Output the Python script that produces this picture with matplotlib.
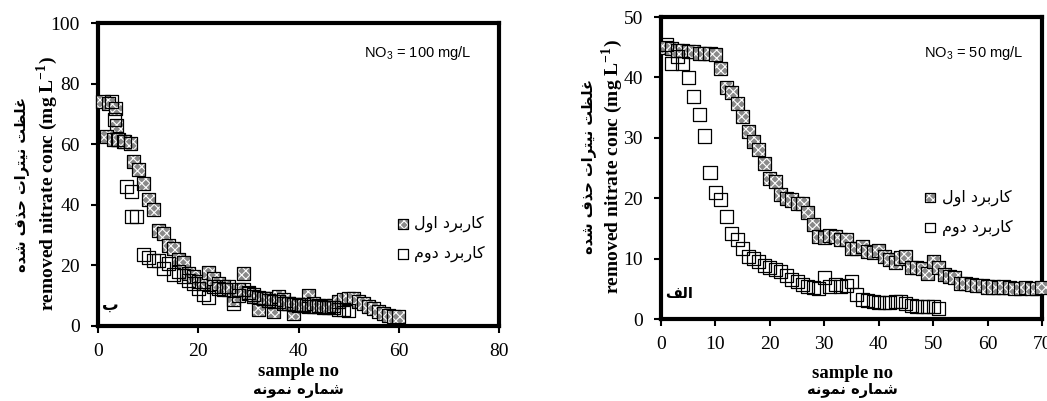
import matplotlib
matplotlib.use("Agg")
import matplotlib.pyplot as plt

# ---------------- data ----------------
# panel "ب" : NO3 = 100 mg/L
b_first_x = [1, 2, 3.4, 3.7, 1.7, 3.1, 4.1, 5.05, 6.4,
             7, 8, 9, 10, 11, 12, 13, 14, 15, 16, 17, 18, 19, 20,
             21, 22, 23, 24, 25, 26, 27, 28, 29, 30, 31, 32, 33, 34, 35, 36, 37, 38, 39, 40,
             41, 42, 43, 44, 45, 46, 47, 48, 49, 50, 51, 52, 53, 54, 55, 56, 57, 58, 59, 60]
b_first_y = [74.0, 73.5, 71.8, 66.3, 62.5, 61.4, 61.4, 60.8, 60.3,
             54.2, 51.5, 47.1, 41.6, 38.5, 31.4, 30.6, 26.7, 25.6, 22.0, 21.0, 17.4, 16.3, 14.6,
             14.0, 17.6, 15.7, 14.0, 13.0, 12.0, 8.6, 12.0, 17.4, 10.8, 9.7, 5.3, 9.1, 9.0, 4.7, 9.7, 8.6, 7.5, 4.2, 6.9,
             6.9, 10.2, 7.5, 6.9, 6.9, 6.4, 6.9, 8.0, 8.6, 9.1, 9.1, 8.0, 7.5, 6.4, 5.8, 4.7, 4.2, 3.6, 3.1, 3.1]

b_second_x = [2.6, 3.3, 3.8, 5.2, 5.7, 6.7, 6.7, 7.7,
              9, 10, 11, 12, 13, 14, 15, 16, 17, 18, 19, 20,
              21, 22, 23, 24, 25, 26, 27, 28, 29, 30, 31, 32, 33, 34, 35, 36, 37, 38, 39, 40,
              41, 42, 43, 44, 45, 46, 47, 48, 49, 50]
b_second_y = [74.0, 68.0, 61.7, 61.0, 46.0, 44.5, 36.0, 36.0,
              23.5, 22.5, 21.5, 21.5, 19.0, 20.5, 17.0, 18.0, 16.5, 15.0, 14.0, 12.5,
              10.5, 9.5, 13.0, 12.5, 12.0, 13.0, 7.5, 10.0, 12.0, 11.0, 10.5, 9.5, 9.0, 8.5, 8.0, 8.0, 7.5, 7.5, 7.0, 7.0,
              7.0, 6.5, 6.5, 6.5, 6.0, 6.0, 6.0, 5.5, 5.5, 5.0]

# panel "الف" : NO3 = 50 mg/L
a_first_x = list(range(1, 71))
a_first_y = [45.0, 44.8, 44.5, 44.5, 44.3, 44.3, 44.0, 44.0, 44.0, 43.8,
             41.5, 38.3, 37.5, 35.6, 33.5, 31.1, 29.4, 28.0, 25.7, 23.3,
             22.8, 20.6, 20.0, 19.7, 19.2, 19.2, 17.6, 15.7, 13.7, 13.5,
             13.8, 13.6, 13.2, 13.1, 11.7, 11.7, 12.0, 11.2, 11.0, 11.4,
             10.3, 9.8, 9.3, 10.1, 10.3, 8.6, 8.6, 8.3, 7.6, 9.5,
             8.6, 7.3, 7.0, 6.9, 5.9, 5.8, 5.7, 5.6, 5.5, 5.3,
             5.3, 5.2, 5.3, 5.2, 5.0, 5.1, 5.2, 5.1, 5.1, 5.2]

a_second_x = list(range(1, 52))
a_second_y = [45.5, 42.3, 43.5, 42.3, 40.0, 36.9, 33.9, 30.3, 24.2, 20.9,
              19.8, 17.0, 14.2, 13.2, 11.7, 10.3, 10.0, 9.5, 8.9, 8.5,
              8.2, 7.9, 7.2, 6.6, 6.2, 5.7, 5.4, 5.2, 5.0, 6.8,
              5.4, 5.7, 5.4, 5.5, 6.2, 4.0, 3.3, 3.0, 2.9, 2.8,
              2.8, 2.8, 2.9, 2.9, 2.6, 2.2, 2.0, 2.0, 2.0, 2.0,
              1.8]

label_first = "کاربرد اول"
label_second = "کاربرد دوم"
ylabel_fa = "غلظت نیترات حذف شده"
xlabel_fa = "شماره نمونه"
ylabel_en = r"removed nitrate conc (mg L$^{\mathbf{-1}}$)"
xlabel_en = "sample no"

# ---------------- Persian text shaping ----------------
# (isolated, final, initial, medial); right-joining letters have two forms only
FORMS = {
    'ا': ('\uFE8D', '\uFE8E'),
    'ب': ('\uFE8F', '\uFE90', '\uFE91', '\uFE92'),
    'ت': ('\uFE95', '\uFE96', '\uFE97', '\uFE98'),
    'ح': ('\uFEA1', '\uFEA2', '\uFEA3', '\uFEA4'),
    'د': ('\uFEA9', '\uFEAA'),
    'ذ': ('\uFEAB', '\uFEAC'),
    'ر': ('\uFEAD', '\uFEAE'),
    'ش': ('\uFEB5', '\uFEB6', '\uFEB7', '\uFEB8'),
    'ظ': ('\uFEC5', '\uFEC6', '\uFEC7', '\uFEC8'),
    'غ': ('\uFECD', '\uFECE', '\uFECF', '\uFED0'),
    'ف': ('\uFED1', '\uFED2', '\uFED3', '\uFED4'),
    'ل': ('\uFEDD', '\uFEDE', '\uFEDF', '\uFEE0'),
    'م': ('\uFEE1', '\uFEE2', '\uFEE3', '\uFEE4'),
    'ن': ('\uFEE5', '\uFEE6', '\uFEE7', '\uFEE8'),
    'ه': ('\uFEE9', '\uFEEA', '\uFEEB', '\uFEEC'),
    'و': ('\uFEED', '\uFEEE'),
    'ک': ('\uFB8E', '\uFB8F', '\uFB90', '\uFB91'),
    'ی': ('\uFBFC', '\uFBFD', '\uFBFE', '\uFBFF'),
}


def fa(text):
    out = []
    for i, ch in enumerate(text):
        if ch not in FORMS:
            out.append(ch)
            continue
        prev = text[i - 1] if i > 0 else ''
        nxt = text[i + 1] if i + 1 < len(text) else ''
        f = FORMS[ch]
        join_prev = prev in FORMS and len(FORMS[prev]) == 4
        join_next = len(f) == 4 and nxt in FORMS
        if join_prev and join_next:
            out.append(f[3])
        elif join_prev:
            out.append(f[1])
        elif join_next:
            out.append(f[2])
        else:
            out.append(f[0])
    return ''.join(reversed(out))


# ---------------- style ----------------
plt.rcParams['font.family'] = ['Liberation Serif', 'DejaVu Sans']
plt.rcParams['mathtext.fontset'] = 'custom'
plt.rcParams['mathtext.rm'] = 'Liberation Serif'
plt.rcParams['mathtext.bf'] = 'Liberation Serif:bold'
plt.rcParams['mathtext.sf'] = 'Liberation Sans'
plt.rcParams['hatch.linewidth'] = 0.8

W, H = 1047, 401
fig = plt.figure(figsize=(W / 100, H / 100), dpi=100)


def px_axes(l, t, r, b):
    return fig.add_axes([l / W, 1 - b / H, (r - l) / W, (b - t) / H])


FA_FONT = ['DejaVu Sans']
MS = 88
FILL = '#8a8a8a'


def style_axes(ax, xmax, xstep, ymax, ystep):
    ax.set_xlim(0, xmax)
    ax.set_ylim(0, ymax)
    ax.set_xticks(range(0, xmax + 1, xstep))
    ax.set_yticks(range(0, ymax + 1, ystep))
    for s in ax.spines.values():
        s.set_linewidth(3)
        s.set_zorder(2.5)
    ax.tick_params(direction='out', length=5, width=1.5, labelsize=14)
    ax.tick_params(axis='x', pad=7)
    ax.tick_params(axis='y', pad=8)


def filled_square(ax, x, y, z, size=MS):
    # grey body with a white dotted texture, then a thin black outline
    a = ax.scatter([x], [y], s=size, marker='s', facecolor=FILL, edgecolor='white',
                   linewidths=0, hatch='xxxx', zorder=z, clip_on=False)
    b = ax.scatter([x], [y], s=size, marker='s', facecolor='none', edgecolor='black',
                   linewidths=0.9, zorder=z + 0.0005, clip_on=False)
    return a, b


def draw_series(ax, fx, fy, sx, sy):
    handles = None
    for i, (x, y) in enumerate(zip(fx, fy)):
        h = filled_square(ax, x, y, 3 + i * 0.001)
        handles = handles or h
    h2 = ax.scatter(sx, sy, s=MS, marker='s', facecolor='none', edgecolor='black',
                    linewidths=0.9, zorder=4, clip_on=False)
    return handles, h2


def add_legend(ax, h1, h2, anchor):
    ax.legend([h1, h2], [fa(label_first), fa(label_second)], loc='upper left',
              bbox_to_anchor=anchor, frameon=False, markerscale=0.75,
              handletextpad=0.2, labelspacing=0.85, borderpad=0, handlelength=1.0,
              prop={'family': FA_FONT, 'size': 11.5})


# ---- left panel ----
axL = px_axes(98, 23, 499, 326)
style_axes(axL, 80, 20, 100, 20)
h1, h2 = draw_series(axL, b_first_x, b_first_y, b_second_x, b_second_y)
add_legend(axL, h1, h2, (0.72, 0.39))
axL.text(53, 90, r"NO$_\mathsf{3}$ = 100 mg/L", family='Liberation Sans',
         fontsize=10.5, va='center', ha='left')
axL.text(2.4, 7, fa("ب"), family=FA_FONT, fontsize=12, fontweight='bold',
         ha='center', va='center')

# ---- right panel ----
axR = px_axes(661, 17, 1042, 319)
style_axes(axR, 70, 10, 50, 10)
h1, h2 = draw_series(axR, a_first_x, a_first_y, a_second_x, a_second_y)
add_legend(axR, h1, h2, (0.665, 0.455))
axR.text(48.3, 44, r"NO$_\mathsf{3}$ = 50 mg/L", family='Liberation Sans',
         fontsize=10.5, va='center', ha='left')
axR.text(3.3, 4.3, fa("الف"), family=FA_FONT, fontsize=10.5, fontweight='bold',
         ha='center', va='center')


# ---- axis titles ----
def ftext(x, y, s, **kw):
    fig.text(x / W, 1 - y / H, s, ha='center', va='center', **kw)


for (xen, xfa, ycen), (xc, yen, yfa) in [((47, 22, 184), (298, 371, 390)),
                                         ((612, 589, 167), (852, 373, 391))]:
    ftext(xen, ycen, ylabel_en, rotation=90, fontsize=14, fontweight='bold')
    ftext(xfa, ycen, fa(ylabel_fa), rotation=90, fontsize=10.5, fontweight='bold',
          family=FA_FONT)
    ftext(xc, yen, xlabel_en, fontsize=13.5, fontweight='bold')
    ftext(xc, yfa, fa(xlabel_fa), fontsize=10.5, fontweight='bold', family=FA_FONT)

fig.savefig("out.png", dpi=100)
